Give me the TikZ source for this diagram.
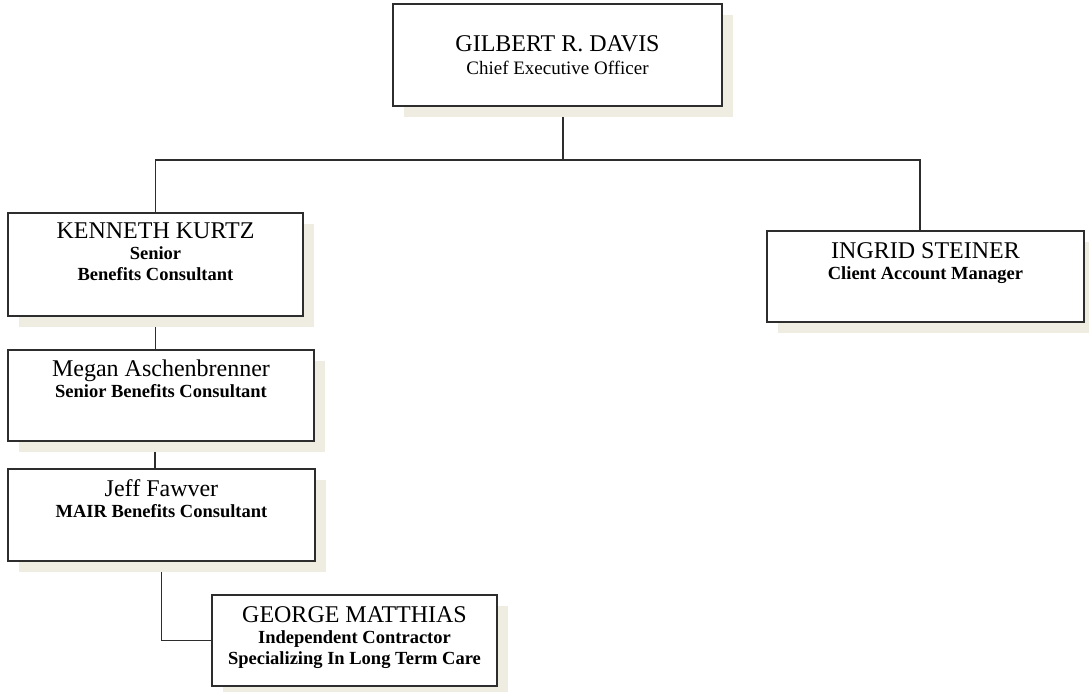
\documentclass[tikz,border=0pt]{standalone}
\usepackage{fontspec}
\setmainfont{Liberation Serif}
\usetikzlibrary{positioning,shadows,backgrounds}
\definecolor{shadowbeige}{RGB}{239,237,226}
\definecolor{boxline}{RGB}{45,45,45}

\begin{document}
\begin{tikzpicture}[x=1pt, y=-1pt,
  card/.style={draw=boxline, line width=2pt, fill=white, inner sep=0pt,
    align=center, font=\fontsize{19}{23}\selectfont,
    drop shadow={shadow xshift=11pt, shadow yshift=-11pt,
      fill=shadowbeige, opacity=1}},
  who/.style={align=center, inner sep=0pt, font=\fontsize{18.5}{21}\selectfont},
  link/.style={draw=boxline, line width=1.8pt}
]
  \useasboundingbox (0,0) rectangle (1089,691);

  % boxes
  \node[card, minimum width=329, minimum height=102] (g) at (557.5,55)
    {{\fontsize{24}{24}\selectfont GILBERT R. DAVIS}\\Chief Executive Officer};
  \node[card, minimum width=295, minimum height=103] (k) at (155.5,264.5) {};
  \node[card, minimum width=317, minimum height=91]  (i) at (925.5,276.5) {};
  \node[card, minimum width=306, minimum height=91]  (m) at (161,395.5) {};
  \node[card, minimum width=307, minimum height=92]  (j) at (161.5,515) {};
  \node[card, minimum width=285, minimum height=91]  (gm) at (354.5,640.5) {};

  % names and titles
  \node[who, below=11pt of k.north] (kt)
    {{\fontsize{24}{24}\selectfont KENNETH KURTZ}\\\textbf{Senior}\\\textbf{Benefits Consultant}};
  \node[who, below=12pt of i.north] (it)
    {{\fontsize{24}{24}\selectfont INGRID STEINER}\\\textbf{Client Account Manager}};
  \node[who, below=11pt of m.north] (mt)
    {{\fontsize{24}{24}\selectfont Megan Aschenbrenner}\\\textbf{Senior Benefits Consultant}};
  \node[who, below=11pt of j.north] (jt)
    {{\fontsize{24}{24}\selectfont Jeff Fawver}\\\textbf{MAIR Benefits Consultant}};
  \node[who, below=12pt of gm.north] (gmt)
    {{\fontsize{24}{24}\selectfont GEORGE MATTHIAS}\\\textbf{Independent Contractor}\\\textbf{Specializing In Long Term Care}};

  % connectors
  \coordinate (bus) at (563,160);
  \begin{scope}[on background layer]
    \draw[link] ([xshift=5.5pt]g.south) -- (bus);
    \draw[link] (k.north) |- (bus) -| ([xshift=-5.5pt]i.north);
    \draw[link] (k.south) -- (k.south |- m.north);
    \draw[link] ([xshift=-6pt]m.south) -- ([xshift=-6pt]m.south |- j.north);
    \draw[link] (j.south) |- (gm.west);
  \end{scope}
\end{tikzpicture}
\end{document}
